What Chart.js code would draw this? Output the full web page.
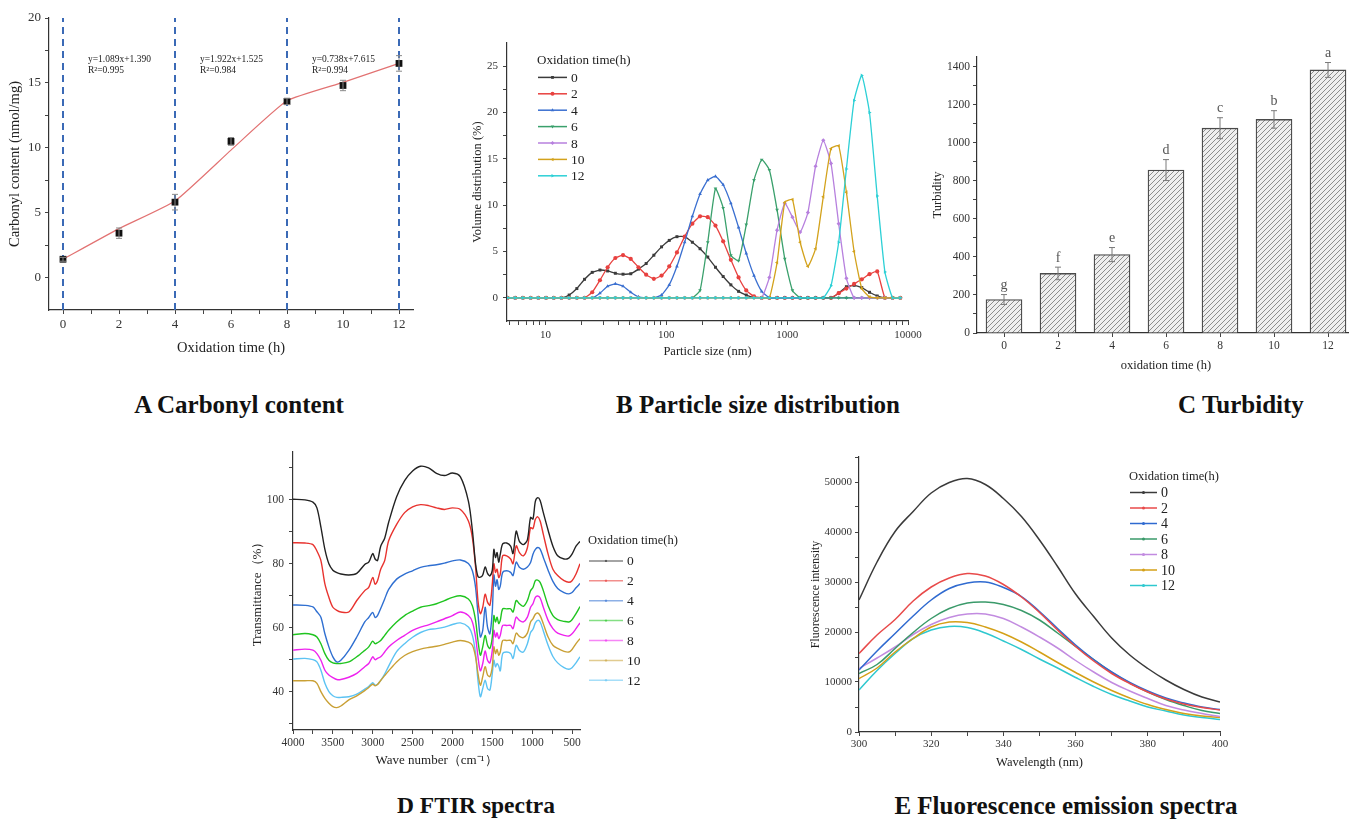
<!DOCTYPE html>
<html>
<head>
<meta charset="utf-8">
<title>Oxidation figure</title>
<script src="https://cdn.jsdelivr.net/npm/chart.js@4.4.1/dist/chart.umd.min.js"></script>
<style>
  html, body { margin: 0; padding: 0; background: #fff; }
  body { position: relative; width: 1349px; height: 821px; overflow: hidden; }
  canvas { position: absolute; }
  .caption { position: absolute; transform: translateX(-50%); font: bold 25px 'Liberation Serif', 'Times New Roman', serif; line-height: 25px; color: #111; white-space: nowrap; }
</style>
</head>
<body>
<canvas id="chartA" width="430" height="365" style="left:0;top:0"></canvas>
<canvas id="chartB" width="470" height="340" style="left:460px;top:30px"></canvas>
<canvas id="chartC" width="460" height="340" style="left:920px;top:40px"></canvas>
<canvas id="chartD" width="460" height="330" style="left:240px;top:440px"></canvas>
<canvas id="chartE" width="460" height="330" style="left:790px;top:445px"></canvas>
<div class="caption" style="left:239px;top:392px">A Carbonyl content</div>
<div class="caption" style="left:758px;top:392px">B Particle size distribution</div>
<div class="caption" style="left:1241px;top:392px">C Turbidity</div>
<div class="caption" style="left:476px;top:793px;font-size:23.5px">D FTIR spectra</div>
<div class="caption" style="left:1066px;top:793px">E Fluorescence emission spectra</div>
<script>
// --- A: carbonyl content ---
const hoursA = [0, 2, 4, 6, 8, 10, 12];
const carbonyl = [1.41, 3.42, 5.81, 10.49, 13.57, 14.8, 16.5];
const carbonylErr = [0.15, 0.4, 0.6, 0.3, 0.25, 0.4, 0.6];
const carbonylFit = [1.41, 3.77, 5.9, 9.82, 13.62, 15.04, 16.5];
const carbonylRange = [-2.5, 20];
const splitHours = [0, 4, 8, 12];
const fitEquations = ['y=1.089x+1.390', 'y=1.922x+1.525', 'y=0.738x+7.615'];
const fitR2 = ['R\u00b2=0.995', 'R\u00b2=0.984', 'R\u00b2=0.994'];

// --- B: particle size distribution ---
const legendHours = ['0', '2', '4', '6', '8', '10', '12'];
const sizesNm = [4.849, 5.615, 6.503, 7.531, 8.721, 10.1, 11.7, 13.54, 15.69, 18.17, 21.04, 24.36, 28.21,
  32.67, 37.84, 43.82, 50.75, 58.77, 68.06, 78.82, 91.28, 105.7, 122.4, 141.8, 164.2, 190.1, 220.2, 255,
  295.3, 342, 396.1, 458.7, 531.2, 615.1, 712.4, 825, 955.4, 1106, 1281, 1484, 1718, 1990, 2305, 2669,
  3091, 3580, 4145, 4801, 5560, 6439, 7456, 8635];
const vol0h = [0, 0, 0, 0, 0, 0, 0, 0, 0.3, 1.0, 2.0, 2.75, 3.0, 2.9, 2.65, 2.55, 2.6, 3.1, 3.7, 4.6, 5.5, 6.2,
  6.6, 6.6, 6.0, 5.3, 4.4, 3.3, 2.3, 1.4, 0.7, 0.3, 0.05, 0, 0, 0, 0, 0, 0, 0, 0, 0, 0, 0.5, 1.2, 1.35, 1.1,
  0.6, 0.2, 0, 0, 0];
const vol2h = [0, 0, 0, 0, 0, 0, 0, 0, 0, 0, 0, 0.6, 1.9, 3.3, 4.3, 4.6, 4.2, 3.3, 2.5, 2.05, 2.4, 3.4, 4.9,
  6.6, 8.0, 8.8, 8.7, 7.8, 6.1, 4.1, 2.2, 0.8, 0.15, 0, 0, 0, 0, 0, 0, 0, 0, 0, 0, 0.5, 1.0, 1.5, 2.0, 2.55,
  2.85, 0, 0, 0];
const vol4h = [0, 0, 0, 0, 0, 0, 0, 0, 0, 0, 0, 0, 0.5, 1.25, 1.5, 1.25, 0.6, 0.1, 0, 0, 0.3, 1.4, 3.4, 6.0,
  8.8, 11.2, 12.7, 13.1, 12.2, 10.2, 7.6, 4.8, 2.4, 0.7, 0, 0, 0, 0, 0, 0, 0, 0, 0, 0, 0, 0, 0, 0, 0, 0, 0, 0];
const vol6h = [0, 0, 0, 0, 0, 0, 0, 0, 0, 0, 0, 0, 0, 0, 0, 0, 0, 0, 0, 0, 0, 0, 0, 0, 0, 0.8, 6.0, 11.8, 9.7,
  4.6, 4.0, 7.9, 12.7, 14.9, 13.8, 9.5, 4.2, 0.8, 0, 0, 0, 0, 0, 0, 0, 0, 0, 0, 0, 0, 0, 0];
const vol8h = [0, 0, 0, 0, 0, 0, 0, 0, 0, 0, 0, 0, 0, 0, 0, 0, 0, 0, 0, 0, 0, 0, 0, 0, 0, 0, 0, 0, 0, 0, 0, 0,
  0, 0, 2.2, 7.3, 10.2, 8.7, 7.1, 9.2, 14.2, 17.0, 14.5, 8.0, 2.1, 0, 0, 0, 0, 0, 0, 0];
const vol10h = [0, 0, 0, 0, 0, 0, 0, 0, 0, 0, 0, 0, 0, 0, 0, 0, 0, 0, 0, 0, 0, 0, 0, 0, 0, 0, 0, 0, 0, 0, 0, 0,
  0, 0, 0, 3.8, 10.3, 10.6, 6.0, 3.4, 5.3, 10.9, 16.1, 16.4, 11.4, 5.0, 1.0, 0.1, 0, 0, 0, 0];
const vol12h = [0, 0, 0, 0, 0, 0, 0, 0, 0, 0, 0, 0, 0, 0, 0, 0, 0, 0, 0, 0, 0, 0, 0, 0, 0, 0, 0, 0, 0, 0, 0, 0,
  0, 0, 0, 0, 0, 0, 0, 0, 0, 0, 1.3, 6.0, 13.9, 21.3, 24.0, 20.0, 11.0, 2.8, 0, 0];

// --- C: turbidity ---
const hoursC = [0, 2, 4, 6, 8, 10, 12];
const turbidity = [176, 313, 412, 856, 1076, 1122, 1382];
const turbidityErr = [26, 33, 37, 55, 55, 46, 39];
const turbidityLetters = ['g', 'f', 'e', 'd', 'c', 'b', 'a'];

// --- D: FTIR spectra ---
const waveNumbers = [4000, 3850, 3750, 3700, 3650, 3600, 3550, 3500, 3450, 3400, 3300, 3200, 3100, 3050,
  3000, 2970, 2940, 2900, 2850, 2800, 2700, 2600, 2500, 2400, 2300, 2200, 2100, 2000, 1900, 1800, 1750,
  1710, 1680, 1650, 1620, 1590, 1560, 1530, 1500, 1480, 1460, 1440, 1420, 1400, 1370, 1320, 1270, 1240,
  1200, 1160, 1110, 1060, 1020, 990, 960, 930, 900, 860, 800, 740, 680, 600, 540, 500, 450, 400];
const ftir0h = [100.2, 100, 99.3, 97.5, 91.5, 84.5, 80, 78, 77.2, 76.8, 76.5, 77, 79.8, 80.5, 83.2, 81.5,
  81, 85.5, 88, 93, 101, 106, 109, 110.5, 110, 108.3, 107.6, 108.4, 107.2, 99.6, 90.5, 80, 76, 75.8, 76.5,
  79, 77, 76.2, 78, 84.5, 82, 83.5, 80.5, 83, 86.2, 86.5, 85.5, 83.2, 90.2, 87, 86, 87.5, 94.5, 94, 99.5,
  100.7, 99.8, 96, 90.5, 85.5, 82.5, 81.5, 81.8, 83, 85.5, 87];
const ftir2h = [86.6, 86.5, 86, 84, 81, 73.7, 69.5, 66.4, 65.4, 64.9, 64.9, 68.5, 71.6, 72.6, 75.7, 73.6,
  74.7, 78.3, 81, 87.2, 92.3, 96, 97.8, 98.5, 98.2, 97.5, 97, 97.5, 97, 93.4, 88.2, 79, 68.5, 64.4, 66.4,
  70.5, 68, 67, 73.7, 80, 77.3, 78.3, 75.7, 76.8, 82.5, 82.5, 81.5, 80, 85.6, 83.5, 82.5, 85, 91.3, 91,
  93.9, 94.7, 93.4, 89.2, 83, 78.3, 76.3, 74.7, 74.2, 74.7, 76.8, 80];
const ftir4h = [67.1, 67, 66.5, 65, 63.3, 58.1, 54, 50.9, 49.3, 49.8, 52.9, 57.1, 61.8, 63.2, 64.8, 63.2,
  63.8, 66, 69, 72, 75.2, 76.8, 77.8, 78.9, 79.4, 79.7, 80.2, 80.9, 81.2, 80.1, 77.8, 72.6, 64.4, 57.1,
  59.2, 66.4, 60.2, 58.1, 65.4, 76.5, 73, 75, 72, 73, 77.3, 77.8, 77.3, 76.3, 80.5, 78.9, 78.3, 79, 80.4,
  83, 84.5, 85.1, 84.6, 82, 78, 74.5, 72.3, 71, 70.6, 71, 72.5, 73.8];
const ftir6h = [57.8, 58.2, 57.8, 57.1, 55, 51.9, 49.8, 49, 48.8, 48.8, 49.3, 50.9, 52.9, 54, 55.8, 55,
  55.3, 56, 57.6, 59.2, 61.8, 63.8, 65.2, 66.4, 66.9, 67.5, 68.5, 69.5, 70, 69, 66.9, 62.3, 56, 51.4, 54,
  57.6, 54.5, 53.5, 57.1, 63.8, 61.8, 63.3, 61.3, 62.3, 65.9, 65.9, 65.9, 64.9, 68.5, 67.5, 66.7, 68.5,
  71.6, 72.6, 74.7, 74.9, 74.2, 71.6, 66.9, 63.8, 62.5, 62, 61.8, 62.5, 64.4, 66.6];
const ftir8h = [53, 53.3, 53, 51.9, 49.8, 46.7, 45.2, 44.4, 43.8, 43.8, 44.5, 45.7, 47.8, 48.8, 50.9, 50,
  50.4, 50.9, 52.4, 54, 56, 57.6, 59.2, 60.2, 60.9, 61.8, 62.8, 63.8, 64.9, 63.8, 61.8, 57.1, 50.9, 46.5,
  48.8, 52.7, 49.8, 49, 53, 59.2, 57.1, 58.4, 56.6, 57.6, 60.7, 60.7, 60.7, 59.7, 63.3, 62.3, 61.8, 63.3,
  66.4, 67.5, 69.5, 69.9, 69.3, 66.4, 62.3, 59.7, 58.3, 57.6, 57.4, 58.1, 59.7, 61.5];
const ftir10h = [43.4, 43.4, 43.4, 42.6, 40, 37.9, 36.4, 35.3, 35, 35.5, 37.4, 38.7, 40.3, 41.3, 42.3, 41.8,
  42.2, 43.5, 45, 46.5, 49.3, 51.3, 52.5, 53.3, 53.8, 54.2, 54.8, 55.5, 56, 55.5, 54.5, 50.9, 45.7, 42,
  44.7, 47.8, 45.2, 44.7, 47.8, 54, 51.9, 53.2, 51.4, 52.4, 56, 56, 56, 55, 58.3, 57.3, 56.9, 58.3, 61.8,
  62.8, 64.2, 64.6, 63.8, 61.2, 57.1, 54.5, 53.5, 52.6, 52.4, 53.2, 55, 56.6];
const ftir12h = [50.2, 50.4, 50, 49.3, 46.7, 42.6, 40, 38.7, 38.2, 38.2, 38.4, 39.2, 40.8, 41.6, 42.8, 42,
  42.3, 43.5, 45.5, 48, 52.5, 55, 57, 58.5, 59.4, 59.7, 60.2, 61, 61.5, 60.2, 57.6, 51.9, 43.6, 38.4, 41,
  43.6, 41, 40.5, 45.7, 49.8, 47.8, 48.8, 48, 46.5, 51.9, 52.4, 51.9, 50.4, 54.5, 52.9, 52.4, 55, 58.5,
  59.5, 61.5, 62.3, 61.8, 59, 54.5, 51, 49, 47.5, 47, 47.5, 49, 50.9];

// --- E: fluorescence emission ---
const wavelengths = [300, 305, 310, 315, 320, 325, 330, 335, 340, 345, 350, 355, 360, 365, 370, 375, 380,
  385, 390, 395, 400];
const fluo0h = [26400, 34000, 40100, 44100, 47800, 49900, 50700, 49500, 46700, 43100, 38400, 33100, 27600,
  23100, 18800, 15400, 12700, 10400, 8500, 7000, 6000];
const fluo2h = [15700, 19400, 22500, 26200, 29000, 30800, 31700, 31200, 29500, 27000, 23900, 20400, 17100,
  14200, 11700, 9700, 8000, 6600, 5600, 4900, 4400];
const fluo4h = [12400, 16200, 19700, 23200, 26400, 28700, 29800, 30000, 28900, 27100, 24100, 20700, 17400,
  14500, 12000, 9900, 8200, 6800, 5800, 5000, 4500];
const fluo6h = [11700, 13500, 16700, 19900, 22700, 24700, 25800, 26000, 25500, 24300, 22400, 19800, 17100,
  14500, 11900, 9800, 8000, 6500, 5300, 4300, 3700];
const fluo8h = [12700, 14800, 17000, 19500, 21500, 22900, 23600, 23600, 22700, 21000, 19000, 16800, 14300,
  12000, 9900, 8200, 6700, 5300, 4400, 3700, 3100];
const fluo10h = [10700, 12800, 16000, 18700, 21000, 22000, 21900, 21000, 19700, 18000, 16000, 13900, 11900,
  10000, 8300, 6800, 5500, 4500, 3700, 3200, 2900];
const fluo12h = [8400, 12300, 15700, 18700, 20400, 21100, 20900, 19800, 18200, 16500, 14600, 12800, 10900,
  9100, 7500, 6200, 5000, 4200, 3400, 2900, 2500];

const SERIF = "'Liberation Serif', 'Times New Roman', serif";
Chart.defaults.font.family = SERIF;
Chart.defaults.color = '#333';
Chart.defaults.animation = false;
Chart.defaults.events = [];
Chart.defaults.plugins.legend.display = false;
Chart.defaults.plugins.tooltip.enabled = false;

// axis with fixed box size, explicit tick list, labels only on some of them
function axis(o) {
  return {
    type: o.type || 'linear',
    min: o.min, max: o.max, reverse: !!o.reverse, offset: false,
    afterBuildTicks: s => { s.ticks = o.ticks.map(v => ({ value: v })); },
    afterFit: s => { if (s.isHorizontal()) s.height = o.size; else s.width = o.size; },
    border: { display: true, color: '#333', width: 1.2 },
    grid: { display: true, offset: false, drawOnChartArea: false, drawTicks: true, tickLength: 4, color: '#444' },
    ticks: {
      autoSkip: false, maxRotation: 0, minRotation: 0, padding: o.pad, color: '#333',
      font: { size: o.font },
      callback: v => (o.labels.includes(v) ? String(v) : '')
    },
    title: { display: true, text: o.title, color: '#222', font: { size: o.titleSize }, padding: o.titlePad }
  };
}

function range(a, b, step) {
  const out = [];
  for (let v = a; v <= b + 1e-9; v += step) out.push(Math.round(v * 1000) / 1000);
  return out;
}

function errorBarPlugin(xs, ys, errs, color, cap) {
  return {
    id: 'errorBars',
    afterDatasetsDraw(chart) {
      const { ctx, scales: { x, y } } = chart;
      ctx.save();
      ctx.strokeStyle = color;
      ctx.lineWidth = 1;
      xs.forEach((xv, i) => {
        const px = x.getPixelForValue(xv);
        const top = y.getPixelForValue(ys[i] + errs[i]);
        const bot = y.getPixelForValue(ys[i] - errs[i]);
        ctx.beginPath();
        ctx.moveTo(px, top); ctx.lineTo(px, bot);
        ctx.moveTo(px - cap, top); ctx.lineTo(px + cap, top);
        ctx.moveTo(px - cap, bot); ctx.lineTo(px + cap, bot);
        ctx.stroke();
      });
      ctx.restore();
    }
  };
}

function legendPlugin(cfg) {
  return {
    id: 'timeLegend',
    afterDraw(chart) {
      const ctx = chart.ctx;
      ctx.save();
      ctx.textBaseline = 'middle';
      ctx.fillStyle = '#222';
      ctx.font = cfg.font + 'px ' + SERIF;
      ctx.fillText('Oxidation time(h)', cfg.x, cfg.y);
      ctx.font = cfg.itemFont + 'px ' + SERIF;
      legendHours.forEach((name, i) => {
        const y = cfg.y + (i + 1) * cfg.gap;
        ctx.globalAlpha = cfg.alpha;
        ctx.strokeStyle = cfg.colors[i];
        ctx.fillStyle = cfg.colors[i];
        ctx.lineWidth = 1.5;
        ctx.beginPath();
        ctx.moveTo(cfg.x + 1, y); ctx.lineTo(cfg.x + 1 + cfg.len, y);
        ctx.stroke();
        const m = cfg.markers ? cfg.markers[i] : { style: 'circle', rot: 0 };
        Chart.helpers.drawPoint(ctx, { pointStyle: m.style, rotation: m.rot, radius: cfg.dot, borderWidth: 0 },
          cfg.x + 1 + cfg.len / 2, y);
        ctx.globalAlpha = 1;
        ctx.fillStyle = '#222';
        ctx.fillText(name, cfg.x + cfg.len + 5, y + 1);
      });
      ctx.restore();
    }
  };
}

// ---------- A ----------
const fitNotePlugin = {
  id: 'fitNotes',
  afterDraw(chart) {
    const { ctx, scales: { x, y } } = chart;
    ctx.save();
    ctx.font = '9.5px ' + SERIF;
    ctx.fillStyle = '#222';
    ctx.textBaseline = 'middle';
    fitEquations.forEach((eq, i) => {
      const px = x.getPixelForValue(splitHours[i]) + 25;
      ctx.fillText(eq, px, y.getPixelForValue(16.8));
      ctx.fillText(fitR2[i], px, y.getPixelForValue(15.95));
    });
    ctx.restore();
  }
};

new Chart(document.getElementById('chartA'), {
  type: 'scatter',
  data: {
    datasets: [
      { data: hoursA.map((h, i) => ({ x: h, y: carbonyl[i] })), pointStyle: 'rect', pointRadius: 4.8,
        backgroundColor: '#111', borderColor: '#111', borderWidth: 0 },
      { data: hoursA.map((h, i) => ({ x: h, y: carbonylFit[i] })), showLine: true, borderColor: '#e27272',
        borderWidth: 1.2, pointRadius: 0, tension: 0.15 },
      ...splitHours.map(h => ({
        data: [{ x: h, y: carbonylRange[0] }, { x: h, y: carbonylRange[1] }], showLine: true,
        borderColor: '#3b6ab6', borderWidth: 2, borderDash: [7, 5], pointRadius: 0
      }))
    ]
  },
  options: {
    responsive: false,
    layout: { padding: { top: 18, right: 17, bottom: 0, left: 0 } },
    scales: {
      x: axis({ min: -0.5, max: 12.5, ticks: range(0, 12, 1), labels: hoursA, size: 55, pad: 3, font: 13,
        title: 'Oxidation time (h)', titleSize: 14.5, titlePad: { top: 0, bottom: 8 } }),
      y: axis({ min: carbonylRange[0], max: carbonylRange[1], ticks: range(0, 20, 2.5), labels: [0, 5, 10, 15, 20],
        size: 49, pad: 4, font: 13, title: 'Carbonyl content (nmol/mg)', titleSize: 14.5, titlePad: { top: 6, bottom: 0 } })
    }
  },
  plugins: [errorBarPlugin(hoursA, carbonyl, carbonylErr, '#8a8a8a', 3), fitNotePlugin]
});

// ---------- B ----------
const colorsB = ['#3b3b3b', '#e8413f', '#3a6fd0', '#3aa06c', '#b780de', '#d3a21c', '#2dd0d6'];
const markersB = [
  { style: 'rect', rot: 0 }, { style: 'circle', rot: 0 }, { style: 'triangle', rot: 0 },
  { style: 'triangle', rot: 180 }, { style: 'rectRot', rot: 0 }, { style: 'triangle', rot: -90 },
  { style: 'triangle', rot: 90 }
];
const seriesB = [vol0h, vol2h, vol4h, vol6h, vol8h, vol10h, vol12h];

new Chart(document.getElementById('chartB'), {
  type: 'scatter',
  data: {
    datasets: seriesB.map((vals, k) => ({
      data: sizesNm.map((s, i) => ({ x: s, y: vals[i] })),
      showLine: true, borderColor: colorsB[k], backgroundColor: colorsB[k], borderWidth: 1.3,
      pointRadius: 2.1, pointBorderWidth: 0, pointStyle: markersB[k].style, pointRotation: markersB[k].rot,
      tension: 0.15, order: -k
    }))
  },
  options: {
    responsive: false,
    layout: { padding: { top: 13, right: 22, bottom: 0, left: 0 } },
    scales: {
      x: axis({ type: 'logarithmic', min: 4.8, max: 10000,
        ticks: [5, 6, 7, 8, 9, 10, 20, 30, 40, 50, 60, 70, 80, 90, 100, 200, 300, 400, 500, 600, 700, 800, 900,
          1000, 2000, 3000, 4000, 5000, 6000, 7000, 8000, 9000, 10000],
        labels: [10, 100, 1000, 10000], size: 49, pad: 4, font: 11,
        title: 'Particle size (nm)', titleSize: 12.5, titlePad: { top: 0, bottom: 11 } }),
      y: axis({ min: -2.5, max: 27.5, ticks: range(0, 25, 2.5), labels: [0, 5, 10, 15, 20, 25], size: 47, pad: 5,
        font: 11, title: 'Volume distribution (%)', titleSize: 12.5, titlePad: { top: 10, bottom: 0 } })
    }
  },
  plugins: [legendPlugin({ x: 77, y: 31, gap: 16.4, len: 29, font: 13, itemFont: 13.5, colors: colorsB,
    markers: markersB, dot: 2, alpha: 1 })]
});

// ---------- C ----------
const ctxC = document.getElementById('chartC').getContext('2d');
const tile = document.createElement('canvas');
tile.width = 5; tile.height = 5;
const tg = tile.getContext('2d');
tg.fillStyle = '#eeeeee'; tg.fillRect(0, 0, 5, 5);
tg.strokeStyle = '#8c8c8c'; tg.lineWidth = 1;
tg.beginPath();
tg.moveTo(0, 5); tg.lineTo(5, 0);
tg.moveTo(-1, 1); tg.lineTo(1, -1);
tg.moveTo(4, 6); tg.lineTo(6, 4);
tg.stroke();
const hatch = ctxC.createPattern(tile, 'repeat');

const letterPlugin = {
  id: 'letters',
  afterDraw(chart) {
    const { ctx, scales: { x, y } } = chart;
    ctx.save();
    ctx.font = '14px ' + SERIF;
    ctx.fillStyle = '#555';
    ctx.textAlign = 'center';
    ctx.textBaseline = 'bottom';
    turbidityLetters.forEach((t, i) => {
      ctx.fillText(t, x.getPixelForValue(hoursC[i]), y.getPixelForValue(turbidity[i] + turbidityErr[i]) - 2);
    });
    ctx.restore();
  }
};

new Chart(ctxC, {
  type: 'bar',
  data: {
    datasets: [{
      data: hoursC.map((h, i) => ({ x: h, y: turbidity[i] })),
      backgroundColor: hatch, borderColor: '#4a4a4a', borderWidth: 1.3, barThickness: 36
    }]
  },
  options: {
    responsive: false,
    layout: { padding: { top: 17, right: 25, bottom: 0, left: 0 } },
    scales: {
      x: axis({ min: -1, max: 13, ticks: hoursC, labels: hoursC, size: 47, pad: 2, font: 11.5,
        title: 'oxidation time (h)', titleSize: 12.5, titlePad: { top: 0, bottom: 7 } }),
      y: axis({ min: 0, max: 1450, ticks: range(0, 1400, 100), labels: range(0, 1400, 200), size: 57, pad: 3,
        font: 11.5, title: 'Turbidity', titleSize: 12.5, titlePad: { top: 10, bottom: 0 } })
    }
  },
  plugins: [errorBarPlugin(hoursC, turbidity, turbidityErr, '#7a7a7a', 3), letterPlugin]
});

// ---------- D ----------
const colorsD = ['#222222', '#e8332f', '#2f6fd1', '#1fc41f', '#ee22ee', '#c9a035', '#5cc3f3'];
const seriesD = [ftir0h, ftir2h, ftir4h, ftir6h, ftir8h, ftir10h, ftir12h];

new Chart(document.getElementById('chartD'), {
  type: 'scatter',
  data: {
    datasets: seriesD.map((vals, k) => ({
      data: waveNumbers.map((w, i) => ({ x: w, y: vals[i] })),
      showLine: true, borderColor: colorsD[k], borderWidth: 1.4, pointRadius: 0, tension: 0.3
    }))
  },
  options: {
    responsive: false,
    layout: { padding: { top: 11, right: 120, bottom: 0, left: 0 } },
    scales: {
      x: axis({ min: 400, max: 4000, reverse: true, ticks: range(500, 4000, 250), labels: range(500, 4000, 500),
        size: 40, pad: 2, font: 11.5, title: 'Wave number\uff08cm\u207b\u00b9\uff09', titleSize: 13,
        titlePad: { top: 0, bottom: 2 } }),
      y: axis({ min: 28, max: 115, ticks: range(30, 110, 10), labels: [40, 60, 80, 100], size: 53, pad: 5,
        font: 11.5, title: 'Transmittance\uff08%\uff09', titleSize: 13, titlePad: { top: 10, bottom: 0 } })
    }
  },
  plugins: [legendPlugin({ x: 348, y: 101, gap: 19.9, len: 34, font: 12.5, itemFont: 13.5, colors: colorsD,
    dot: 1.2, alpha: 0.55 })]
});

// ---------- E ----------
const colorsE = ['#3a3a3a', '#e84a4a', '#2f6ad0', '#3a9a6a', '#c28be0', '#d4a017', '#2ec8cf'];
const seriesE = [fluo0h, fluo2h, fluo4h, fluo6h, fluo8h, fluo10h, fluo12h];

new Chart(document.getElementById('chartE'), {
  type: 'scatter',
  data: {
    datasets: seriesE.map((vals, k) => ({
      data: wavelengths.map((w, i) => ({ x: w, y: vals[i] })),
      showLine: true, borderColor: colorsE[k], borderWidth: 1.5, pointRadius: 0, tension: 0.4
    }))
  },
  options: {
    responsive: false,
    layout: { padding: { top: 12, right: 30, bottom: 0, left: 0 } },
    scales: {
      x: axis({ min: 300, max: 400, ticks: range(300, 400, 10), labels: range(300, 400, 20), size: 43, pad: 2,
        font: 11, title: 'Wavelength (nm)', titleSize: 12.5, titlePad: { top: 0, bottom: 5 } }),
      y: axis({ min: 0, max: 55000, ticks: range(0, 55000, 5000), labels: range(0, 50000, 10000), size: 69, pad: 3,
        font: 11, title: 'Fluorescence intensity', titleSize: 12, titlePad: { top: 19, bottom: 0 } })
    }
  },
  plugins: [legendPlugin({ x: 339, y: 32, gap: 15.5, len: 27, font: 12.5, itemFont: 14, colors: colorsE,
    dot: 1.5, alpha: 1 })]
});
</script>
</body>
</html>
